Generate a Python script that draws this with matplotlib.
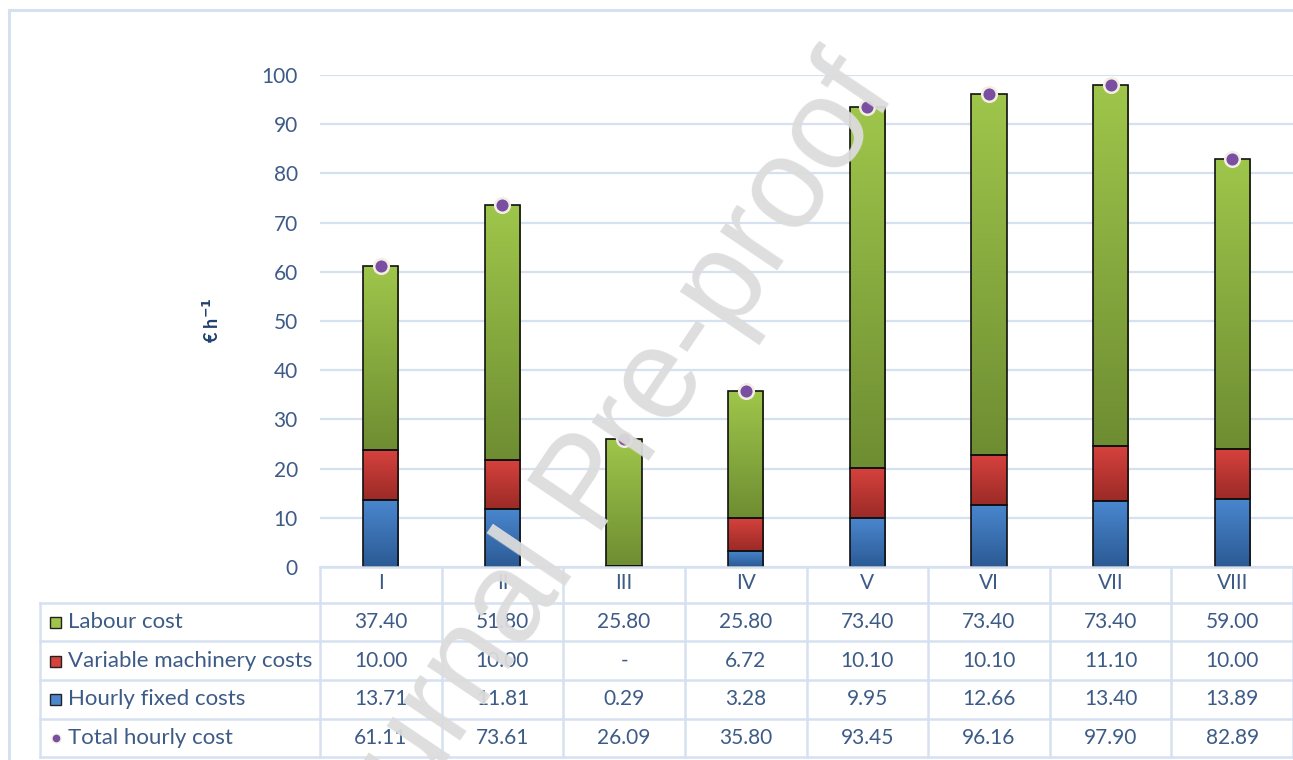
import numpy as np
import matplotlib
matplotlib.use("Agg")
import matplotlib.pyplot as plt
import matplotlib.transforms as mtransforms
from matplotlib.lines import Line2D
from matplotlib.patches import Rectangle

# ---------------- data ----------------
categories = ["I", "II", "III", "IV", "V", "VI", "VII", "VIII"]
hourly_fixed = [13.71, 11.81, 0.29, 3.28, 9.95, 12.66, 13.40, 13.89]
variable_mach = [10.00, 10.00, 0.0, 6.72, 10.10, 10.10, 11.10, 10.00]
labour = [37.40, 51.80, 25.80, 25.80, 73.40, 73.40, 73.40, 59.00]
total = [61.11, 73.61, 26.09, 35.80, 93.45, 96.16, 97.90, 82.89]

row_names = ["Labour cost", "Variable machinery costs", "Hourly fixed costs", "Total hourly cost"]
row_text = [
    ["37.40", "51.80", "25.80", "25.80", "73.40", "73.40", "73.40", "59.00"],
    ["10.00", "10.00", "-", "6.72", "10.10", "10.10", "11.10", "10.00"],
    ["13.71", "11.81", "0.29", "3.28", "9.95", "12.66", "13.40", "13.89"],
    ["61.11", "73.61", "26.09", "35.80", "93.45", "96.16", "97.90", "82.89"],
]
y_ticks = list(range(0, 101, 10))

# ---------------- style ----------------
W, H = 1293, 760
FONT = ["Lato", "DejaVu Sans"]
TXT = "#3d5b87"
GRID = "#d5e1f0"
grad = {
    "blue": ("#4a87cf", "#2b5a94"),
    "red": ("#d6423d", "#9b2a27"),
    "green": ("#9fc64b", "#6e8d32"),
}
PURPLE = "#7a4fa2"

plt.rcParams["font.family"] = FONT

def fx(px):
    return px / W

def fy(py):
    return 1 - py / H

fig = plt.figure(figsize=(W / 100, H / 100), dpi=100)
fig.patch.set_facecolor("white")

ax = fig.add_axes([fx(320), fy(567), fx(1293) - fx(320), fy(75) - fy(567)])
ax.set_xlim(-0.5, len(categories) - 0.5)
ax.set_ylim(0, 100)
for s in ax.spines.values():
    s.set_visible(False)
ax.set_yticks(y_ticks)
ax.set_yticklabels([str(t) for t in y_ticks])
ax.tick_params(axis="y", length=0, pad=16, labelsize=15, labelcolor=TXT)
ax.set_xticks([])
ax.grid(axis="y", color=GRID, linewidth=1.6, zorder=0)
ax.set_axisbelow(True)

x = np.arange(len(categories))
bw = 0.29

def grad_bars(bars, key):
    top, bot = grad[key]
    cmap = matplotlib.colors.LinearSegmentedColormap.from_list(key, [bot, top])
    g = np.linspace(0, 1, 256).reshape(-1, 1)
    for p in bars:
        h = p.get_height()
        if h <= 0:
            p.set_visible(False)
            continue
        x0, y0 = p.get_x(), p.get_y()
        im = ax.imshow(g, cmap=cmap, origin="lower", aspect="auto",
                       extent=(x0, x0 + p.get_width(), y0, y0 + h), zorder=2,
                       interpolation="bilinear")
        im.set_clip_path(p)

b1 = ax.bar(x, hourly_fixed, bw, facecolor="none", edgecolor="#111111", linewidth=1.2, zorder=3)
grad_bars(b1, "blue")
base2 = np.array(hourly_fixed)
b2 = ax.bar(x, variable_mach, bw, bottom=base2, facecolor="none", edgecolor="#111111", linewidth=1.2, zorder=3)
grad_bars(b2, "red")
base3 = base2 + np.array(variable_mach)
b3 = ax.bar(x, labour, bw, bottom=base3, facecolor="none", edgecolor="#111111", linewidth=1.2, zorder=3)
grad_bars(b3, "green")
ax.set_xlim(-0.5, len(categories) - 0.5)
ax.set_ylim(0, 100)

ax.plot(x, total, linestyle="none", marker="o", markersize=10.5, markerfacecolor=PURPLE,
        markeredgecolor="#f3eee3", markeredgewidth=1.8, zorder=5, clip_on=False)

# y label
fig.text(fx(212), fy(320), "€ h$^{\\mathbf{-1}}$", rotation=90, ha="center", va="center",
         fontsize=13, fontweight="bold", color="#1f3f6e")

# ---------------- data table ----------------
bt = mtransforms.blended_transform_factory(ax.transData, fig.transFigure)
row_lines = [603, 641, 680, 719, 757]
row_centers = [622, 661, 699, 738]
lw_t = 1.8

fig.add_artist(Line2D([fx(320), fx(1293)], [fy(567), fy(567)], color=GRID, lw=lw_t))
for k in range(len(categories) + 1):
    xb = k - 0.5
    ln = Line2D([xb, xb], [fy(567), fy(757)], color=GRID, lw=lw_t, transform=bt)
    fig.add_artist(ln)
for yl in row_lines:
    fig.add_artist(Line2D([fx(40), fx(1293)], [fy(yl), fy(yl)], color=GRID, lw=lw_t))
fig.add_artist(Line2D([fx(40), fx(40)], [fy(603), fy(757)], color=GRID, lw=lw_t))

for i, c in enumerate(categories):
    fig.text(i, fy(583), c, transform=bt, ha="center", va="center", fontsize=15, color=TXT)
for r, vals in enumerate(row_text):
    for i, v in enumerate(vals):
        fig.text(i, fy(row_centers[r]), v, transform=bt, ha="center", va="center",
                 fontsize=15, color=TXT)
    fig.text(fx(68), fy(row_centers[r]), row_names[r], ha="left", va="center",
             fontsize=16, color=TXT)

sw = 11
for r, key in enumerate(["green", "red", "blue"]):
    top, bot = grad[key]
    yc = row_centers[r]
    fig.add_artist(Rectangle((fx(50), fy(yc + sw / 2)), sw / W, sw / H,
                             facecolor=top, edgecolor="#222222", lw=1.0,
                             transform=fig.transFigure))
fig.add_artist(Line2D([fx(56)], [fy(row_centers[3])], marker="o", markersize=6.5,
                      markerfacecolor=PURPLE, markeredgecolor="#f3eee3", markeredgewidth=1,
                      linestyle="none", transform=fig.transFigure))

# outer frame
fig.add_artist(Line2D([fx(9), fx(9)], [fy(10), fy(760)], color=GRID, lw=2.2))
fig.add_artist(Line2D([fx(9), fx(1293)], [fy(10), fy(10)], color=GRID, lw=2.2))

# watermark
fig.text(fx(591), fy(488), "Journal Pre-proof", rotation=56, ha="center", va="center",
         fontsize=93, color="#dcdcdc", alpha=0.95, family=["Liberation Sans", "DejaVu Sans"],
         zorder=20)

fig.savefig("out.png", dpi=100)
